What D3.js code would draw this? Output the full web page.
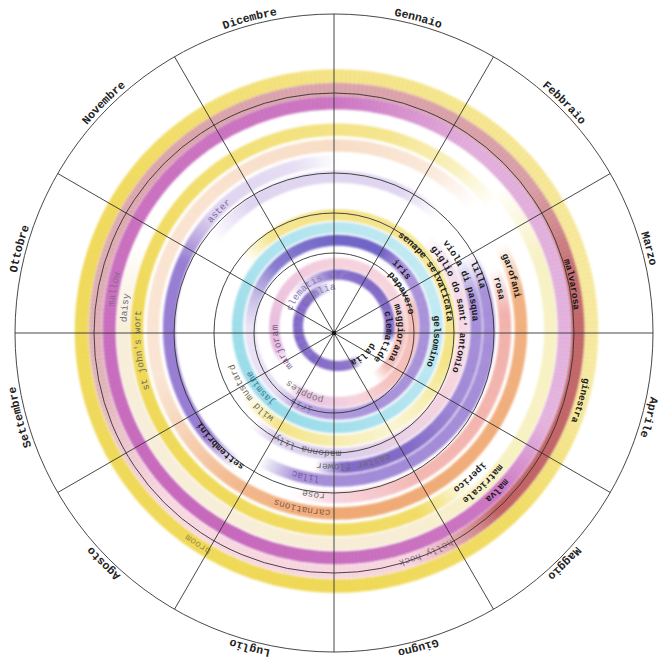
<!DOCTYPE html>
<html>
<head>
<meta charset="utf-8">
<script src="https://cdn.jsdelivr.net/npm/d3@7"></script>
<style>
  html, body { margin: 0; padding: 0; background: #fff; }
  svg { display: block; }
</style>
</head>
<body>
<svg id="chart" width="669" height="669"></svg>
<script>
// Calendario dei fiori: one coloured ring per flower, months clockwise from the top.
const monthNames = ["Gennaio","Febbraio","Marzo","Aprile","Maggio","Giugno","Luglio","Agosto","Settembre","Ottobre","Novembre","Dicembre"];

const italianNames = ["dalia","clematide","maggiorana","papavero","iris","gelsomino","senape selvaticata","giglio do sant' antonio","viola di pasqua","lilla","settembrini","rosa","garofani","iperico","matricale","malva","malvarosa","ginestra"];
const englishNames = ["dahlia","clematis","marjoram","poppies","iris","jasmine","wild mustard","madonna lily","easter flower","lilac","aster","rose","carnations","st john's wort","daisy","mallow","holly hock","broom"];

// ring (track) of each flower, counted from the centre
const flowerTrack = [0,1,2,3,4,5,6,7,8,9,10,10,11,12,13,14,15,16];

// month position (0 = 1 January) of the middle of each label
const italianLabelMonth = [4.63,3.43,3.2,2.07,1.6,3.27,2.0,2.67,2.3,2.3,7.5,2.53,2.43,4.6,4.55,4.5,2.63,3.53];
const englishLabelMonth = [11.0,10.5,8.33,6.9,6.83,7.73,7.77,6.47,5.77,6.4,10.5,6.27,6.37,8.8,9.2,9.35,5.27,7.1];

// painted pieces of the rings: track, and stops [month, tint, strength]
const pieceTrack = [16,15,14,13,12,11,10,10,9,9,8,7,6,5,4,3,2,1,0];
const pieceStops = [
  [[0,"yellow",.6],[2,"yellow",.5],[3.5,"yellow",.45],[4.5,"yellow",.8],[6,"yellow",.9],[10,"yellow",.85],[12,"yellow",.6]],
  [[0,"rose",.7],[1.8,"rose",.75],[2.6,"darkRed",.85],[4.6,"darkRed",.9],[5.4,"pink",.5],[7.5,"pink",.45],[8.5,"rose",.55],[10.5,"rose",.7],[12,"rose",.7]],
  [[0,"magenta",.8],[1.2,"orchid",.65],[3.8,"orchid",.6],[4.5,"magenta",.8],[7,"magenta",.9],[9.5,"magenta",.85],[12,"magenta",.8]],
  [[1.6,"paleYellow",0],[2.3,"paleYellow",.5],[4.5,"paleYellow",.55],[5.5,"cream",.55],[9,"cream",.5],[9.8,"cream",0]],
  [[4.6,"yellow",0],[5.2,"yellow",.8],[9,"yellow",.9],[11,"yellow",.7],[12.5,"yellow",.55],[13.2,"yellow",.3],[13.7,"yellow",0]],
  [[2.1,"orange",0],[2.6,"orange",.7],[6,"orange",.8],[7.2,"orange",.6],[8.5,"peach",.4],[10.5,"peach",.45],[12,"peach",.55],[13,"peach",.35],[13.6,"peach",0]],
  [[2.3,"salmon",0],[2.8,"salmon",.7],[5,"salmon",.65],[6,"pink",.5],[6.5,"pink",0]],
  [[7.2,"purple",0],[7.7,"purple",.85],[9.8,"purple",.85],[10.4,"lavender",.5],[11.5,"lavender",.35],[12,"lavender",0]],
  [[2,"lavender",0],[2.5,"purple",.7],[5.5,"purple",.75],[6.5,"purple",.7],[7,"purple",0]],
  [[10.2,"lavender",0],[10.8,"lavender",.45],[12.8,"lavender",.45],[13.4,"lavender",0]],
  [[2,"purple",0],[2.6,"purple",.7],[4,"purple",.75],[5,"violet",.8],[5.9,"violet",.8],[6.3,"violet",0]],
  [[1.5,"lightPink",0],[2,"lightPink",.6],[4,"pink",.5],[6,"lavender",.55],[7,"lavender",.5],[7.4,"lavender",0]],
  [[10.2,"yellow",0],[10.8,"yellow",.55],[12,"yellow",.6],[14,"yellow",.5],[15.5,"yellow",.6],[17,"paleYellow",.4],[19,"yellow",.6],[19.8,"yellow",0]],
  [[0,"cyan",.55],[2,"cyan",.45],[3.5,"cyan",.5],[5,"cyan",.65],[7,"cyan",.85],[9,"cyan",.8],[10.5,"cyan",.65],[12,"cyan",.55]],
  [[0,"indigo",.85],[1,"indigo",.85],[1.6,"purple",.7],[5,"purple",.7],[6.8,"purple",.6],[7.5,"lavender",.35],[9,"lavender",.3],[10.5,"indigo",.7],[12,"indigo",.85]],
  [[2,"salmon",0],[2.5,"salmon",.6],[4.5,"salmon",.55],[5.5,"pink",.5],[6.9,"orchid",.5],[7.3,"orchid",0]],
  [[7.8,"orchid",0],[8.4,"orchid",.55],[12,"pink",.55],[14.5,"pink",.5],[15.3,"salmon",.6],[16.3,"salmon",.55],[16.8,"salmon",0]],
  [[10.1,"lavender",0],[10.7,"lavender",.5],[11.7,"violet",.75],[12.5,"violet",.85],[15.2,"violet",.85],[15.6,"violet",0]],
  [[4.9,"violet",0],[5.4,"violet",.8],[7,"violet",.9],[10.5,"violet",.9],[11.2,"violet",.3],[11.7,"violet",0]]
];

const tints = {
  yellow:"#eed548", paleYellow:"#f2e89a", cream:"#f2e2bc", peach:"#f3c7a2", orange:"#ec9858",
  salmon:"#ee9890", pink:"#f0b2c4", rose:"#cf8690", darkRed:"#bc5658", magenta:"#c25cb6",
  orchid:"#d58ccc", lavender:"#c2aee2", purple:"#8a6ccc", violet:"#6a4cbc", indigo:"#5a4cbe",
  cyan:"#8ad6e6", lightPink:"#efcde2"
};
const englishColors = ["#8a78b0","#8a78b0","#7a5a8a","#777777","#7a6aa0","#3a7a98","#6a6a50","#6a6a6a","#6a6a6a","#7a5aa0","#7a6aa0","#6a6a6a","#8a5a4a","#6a6a6a","#6a6a80","#8a6a8a","#8a6a8a","#a08a40"];

const gridCircles = [80,120,160,240,319];

const W = 669, H = 669, CX = 334, CY = 333;
const svg = d3.select("#chart");
const defs = svg.append("defs");
const soft = defs.append("filter").attr("id","soft").attr("x","-10%").attr("y","-10%").attr("width","120%").attr("height","120%");
soft.append("feGaussianBlur").attr("stdDeviation",1.3);

svg.append("rect").attr("width",W).attr("height",H).attr("fill","#fff");

const angle = d3.scaleLinear().domain([0,12]).range([0,2*Math.PI]);
// track radius; inner tracks are packed a little tighter than outer ones
const radius = d3.scaleLinear().domain([0,4,9,12,16]).range([40,87,152,200,255]);
const bandWidth = d3.scaleLinear().domain([0,16]).range([10,13.5]);
// the painted rings are drawn round a centre nudged up and to the right
const shiftX = d3.scaleLinear().domain([0,16]).range([4,2.5]);
const shiftY = d3.scaleLinear().domain([0,16]).range([-7,-2]);
const outerR = 319;

const ringLayer = svg.append("g").attr("filter","url(#soft)");
const labelLayer = svg.append("g");
const g = svg.append("g").attr("transform",`translate(${CX},${CY})`);
const trackOrigin = t => `translate(${CX + shiftX(t)},${CY + shiftY(t)})`;

const arc = d3.arc();
const step = 1/30;
pieceStops.forEach((stops,i) => {
  const t = pieceTrack[i], r = radius(t), w = bandWidth(t);
  const pg = ringLayer.append("g").attr("transform", trackOrigin(t));
  for (let j = 0; j < stops.length - 1; j++) {
    const [m0,c0,k0] = stops[j], [m1,c1,k1] = stops[j+1];
    const col = d3.interpolateRgb(tints[c0], tints[c1]);
    for (let m = m0; m < m1 - 1e-9; m += step) {
      const mEnd = Math.min(m1, m + step);
      const f = ((m + mEnd)/2 - m0)/(m1 - m0);
      pg.append("path")
        .attr("d", arc({innerRadius:r - w/2, outerRadius:r + w/2, startAngle:angle(m), endAngle:angle(mEnd) + 0.004}))
        .attr("fill", col(f))
        .attr("opacity", k0 + (k1 - k0)*f);
    }
  }
});

// grid: circles and month spokes
g.selectAll("circle.grid").data(gridCircles).join("circle")
  .attr("class","grid").attr("r",d=>d).attr("fill","none").attr("stroke","#333").attr("stroke-width",0.9);
g.selectAll("line.spoke").data(d3.range(12)).join("line")
  .attr("class","spoke")
  .attr("x1",0).attr("y1",0)
  .attr("x2",d=>outerR*Math.sin(angle(d)))
  .attr("y2",d=>-outerR*Math.cos(angle(d)))
  .attr("stroke","#333").attr("stroke-width",0.9);
g.append("circle").attr("r",2.2).attr("fill","#111");

// clockwise arc paths used for text
function arcPath(r, centerMonth, halfSpan) {
  const a0 = angle(centerMonth) - halfSpan, a1 = angle(centerMonth) + halfSpan;
  const p = a => [r*Math.sin(a), -r*Math.cos(a)];
  const [x0,y0] = p(a0), [x1,y1] = p(a1);
  return `M${x0},${y0}A${r},${r} 0 ${halfSpan*2 > Math.PI ? 1 : 0} 1 ${x1},${y1}`;
}
let pid = 0;
function curvedText(parent, text, r, centerMonth, attrs) {
  const id = "tp" + (pid++);
  defs.append("path").attr("id",id).attr("d",arcPath(r, centerMonth, 1.4));
  const t = parent.append("text");
  Object.entries(attrs).forEach(([k,v]) => t.attr(k,v));
  t.append("textPath").attr("href","#"+id).attr("startOffset","50%").attr("text-anchor","middle").text(text);
}

// month names outside the outer circle
monthNames.forEach((m,i) => {
  curvedText(g, m, outerR + 4, i + 0.5, {"font-family":"'Liberation Mono', monospace","font-size":11.5,"font-weight":"bold","fill":"#222"});
});

// flower names along their rings
const labelFont = {"font-family":"'Liberation Mono', monospace","font-size":9.5};
italianNames.forEach((n,i) => {
  const t = flowerTrack[i];
  const lg = labelLayer.append("g").attr("transform", trackOrigin(t));
  curvedText(lg, n, radius(t) - 3.3, italianLabelMonth[i], {...labelFont,"font-weight":"bold","fill":"#1a1a1a"});
});
englishNames.forEach((n,i) => {
  const t = flowerTrack[i];
  const lg = labelLayer.append("g").attr("transform", trackOrigin(t));
  curvedText(lg, n, radius(t) - 3.3, englishLabelMonth[i], {...labelFont,"fill":englishColors[i]});
});
</script>
</body>
</html>
